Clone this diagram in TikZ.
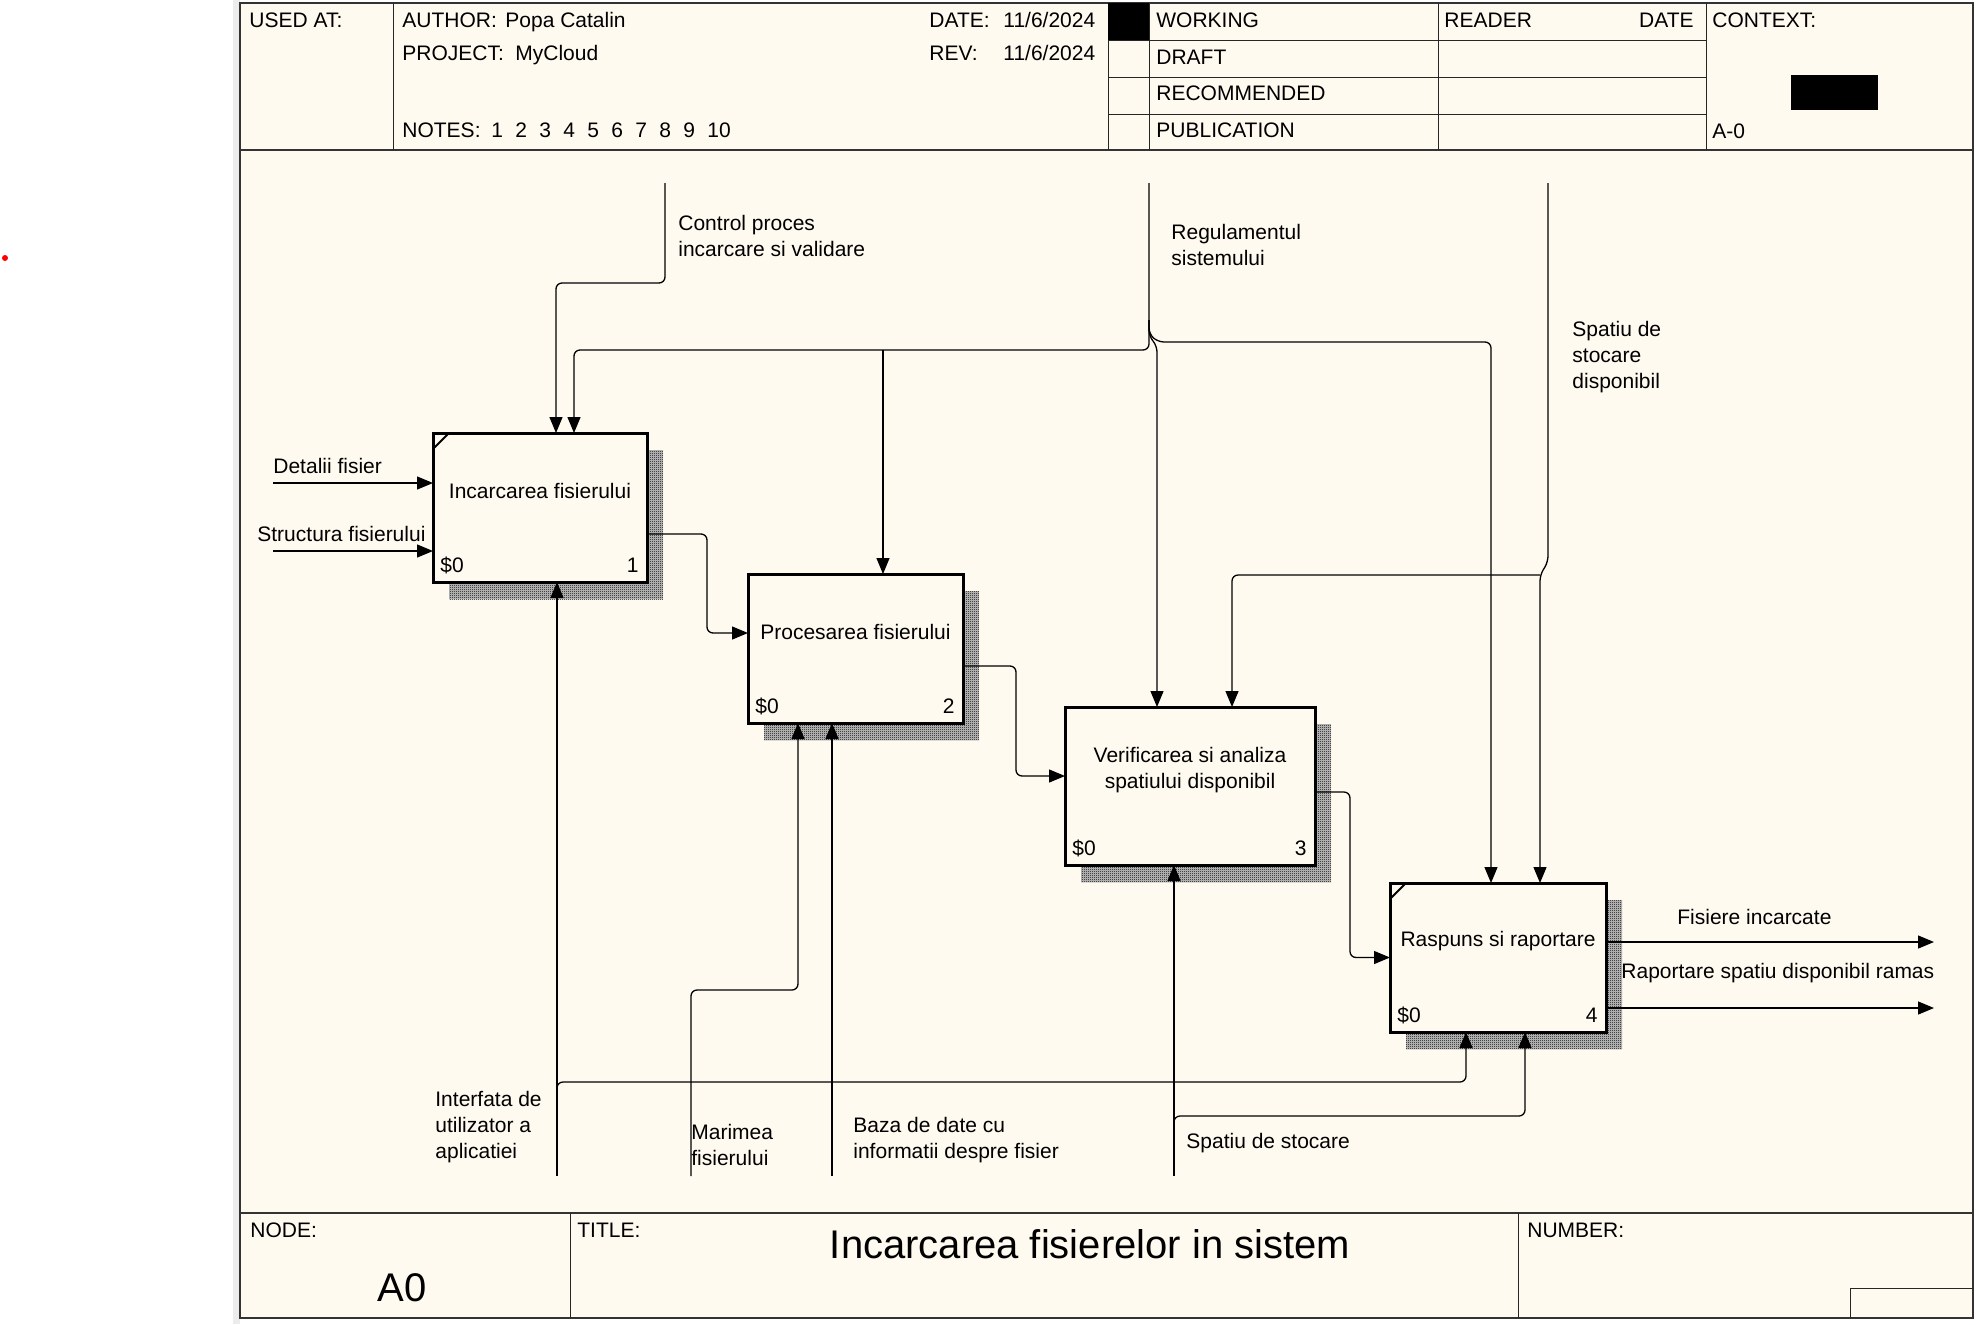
\documentclass[tikz,border=0pt]{standalone}
\usepackage{fontspec}
\setmainfont{Liberation Sans}
\usetikzlibrary{arrows.meta,patterns}
\definecolor{paper}{RGB}{255,250,240}
\pgfdeclarepatternformonly{fine checker}{\pgfqpoint{0pt}{0pt}}{\pgfqpoint{1pt}{1pt}}{\pgfqpoint{1pt}{1pt}}{%
  \pgfpathrectangle{\pgfqpoint{0pt}{0pt}}{\pgfqpoint{0.5pt}{0.5pt}}%
  \pgfpathrectangle{\pgfqpoint{0.5pt}{0.5pt}}{\pgfqpoint{0.5pt}{0.5pt}}%
  \pgfusepath{fill}}
\begin{document}
\begin{tikzpicture}[
  x=0.5pt, y=-0.5pt,
  txt/.style={font=\fontsize{10.5pt}{13pt}\selectfont, inner sep=0pt, anchor=west, align=left},
  hdr/.style={txt, anchor=base west},
  bigtxt/.style={font=\fontsize{20pt}{24pt}\selectfont, inner sep=0pt},
  abox/.style={draw, line width=1.5pt, fill=paper, inner sep=0pt, outer sep=0pt},
  boxshadow/.style={pattern=fine checker, pattern color=black},
  flow/.style={line width=0.65pt, rounded corners=3pt, -{Triangle[length=8pt,width=6.5pt]}},
  thinrule/.style={line width=0.5pt, black!85},
  frame/.style={line width=1pt, black!80}
]
\useasboundingbox (0,0) rectangle (1976,1324);
\fill[white] (0,0) rectangle (1976,1324);
\fill[gray!15] (233,0) rectangle (240,1324);
\fill[red] (5,258) circle (1.5pt);
\draw[frame, fill=paper] (240,3) rectangle (1973,1318);
\draw[frame] (240,150) -- (1973,150);
\draw[frame] (240,1213) -- (1973,1213);
\foreach \x in {393,1108,1149,1438,1706}{
  \draw[thinrule] (\x,3) -- (\x,150);
}
\foreach \y in {40,77,114}{
  \draw[thinrule] (1108,\y) -- (1706,\y);
}
\fill (1108,3) rectangle (1149,40);
\fill (1791,75) rectangle (1878,110);
\foreach \x in {570,1518}{
  \draw[thinrule] (\x,1213) -- (\x,1318);
}
\draw[thinrule] (1850,1318) |- (1973,1288);
\node[hdr] (usedat) at (249,27) {USED AT:};
\node[hdr] (author) at (402,27) {AUTHOR:};
\node[hdr] (authorv) at (505,27) {Popa Catalin};
\node[hdr] (project) at (402,60) {PROJECT:};
\node[hdr] (projectv) at (515,60) {MyCloud};
\node[hdr] (notes) at (402,137) {NOTES:};
\foreach \k in {1,...,10}{
  \node[hdr] (note\k) at ({491+24*(\k-1)},137) {\k};
}
\node[hdr] (date) at (929,27) {DATE:};
\node[hdr] (datev) at (1003,27) {11/6/2024};
\node[hdr] (rev) at (929,60) {REV:};
\node[hdr] (revv) at (1003,60) {11/6/2024};
\foreach \y/\s in {27/WORKING,64/DRAFT,100/RECOMMENDED,137/PUBLICATION}{
  \node[hdr] (st\s) at (1156,\y) {\s};
}
\node[hdr] (reader) at (1444,27) {READER};
\node[hdr, anchor=base east] (rdate) at (1694,27) {DATE};
\node[hdr] (context) at (1712,27) {CONTEXT:};
\node[hdr] (ctxnode) at (1712,138) {A-0};
\node[hdr] (nodelbl) at (250,1237) {NODE:};
\node[hdr] (titlelbl) at (577,1237) {TITLE:};
\node[hdr] (numberlbl) at (1527,1237) {NUMBER:};
\node[bigtxt] (nodeval) at (402,1288) {A0};
\node[bigtxt] (titleval) at (1090,1244) {Incarcarea fisierelor in sistem};
\foreach \i/\cx/\cy/\w/\h/\ty/\lab in {
  1/540/507.5/214/149/491/{Incarcarea fisierului},
  2/855.5/648.5/215/149/632/{Procesarea fisierului},
  3/1190/786/250/158/770/{Verificarea si analiza\\spatiului disponibil},
  4/1498/957.5/216/149/941/{Raspuns si raportare}}{
  \fill[gray!45] ({\cx-\w/2+16},{\cy-\h/2+17}) rectangle ({\cx+\w/2+16},{\cy+\h/2+17});
  \fill[boxshadow] ({\cx-\w/2+16},{\cy-\h/2+17}) rectangle ({\cx+\w/2+16},{\cy+\h/2+17});
  \node[abox, minimum width=\w*0.5pt, minimum height=\h*0.5pt] (b\i) at (\cx,\cy) {};
  \node[txt, anchor=center, align=center] (b\i name) at (\cx,\ty) {\lab};
  \node[txt] (b\i cost) at ([shift={(3.5pt,8.5pt)}]b\i.south west) {\$0};
  \node[txt, anchor=east] (b\i num) at ([shift={(-4pt,8.5pt)}]b\i.south east) {\i};
}
\foreach \i in {1,4}{
  \draw[line width=1pt] ([yshift=-8pt]b\i.north west) -- ([xshift=8pt]b\i.north west);
}
\coordinate (ctl) at (665,183);
\coordinate (reg) at (1149,183);
\coordinate (spd) at (1548,183);
\coordinate (in1) at (273,483);
\coordinate (in2) at (273,551);
\coordinate (out1) at (1934,942);
\coordinate (out2) at (1934,1008);
\coordinate (mec1) at (557,1176);
\coordinate (mec2) at (691,1176);
\coordinate (mec3) at (832,1176);
\coordinate (mec4) at (1174,1176);
\draw[flow] (ctl) -- (665,283) -| ([xshift=8pt]b1.north);
\draw[flow] (reg) |- (574,350) -- ([xshift=17pt]b1.north);
\draw[flow] (883,350) -- ([xshift=13.75pt]b2.north);
\draw[flow] (1149,320) -- (1149,336) -- (1157,346) -- ([xshift=-16.5pt]b3.north);
\draw[flow] (1149,320) -- (1149,334) -- (1158,342) -| ([xshift=-3.5pt]b4.north);
\draw[flow] (spd) -- (1548,562) -- (1540,575) -- ([xshift=21pt]b4.north);
\draw[flow] (1540,575) -| ([xshift=21pt]b3.north);
\draw[flow] (in1) -- ([yshift=12.25pt]b1.west);
\draw[flow] (in2) -- ([yshift=-21.75pt]b1.west);
\draw[flow] ([yshift=-13.25pt]b1.east) -- ++(60,0) |- ([yshift=7.75pt]b2.west);
\draw[flow] ([yshift=-8.75pt]b2.east) -- ++(53,0) |- ([yshift=5pt]b3.west);
\draw[flow] ([yshift=-3pt]b3.east) -- ++(35,0) |- (b4.west);
\draw[flow] ([yshift=7.75pt]b4.east) -- (out1);
\draw[flow] ([yshift=-25.25pt]b4.east) -- (out2);
\draw[flow] (mec1) -- ([xshift=8.5pt]b1.south);
\draw[flow] (557,1096) -- (557,1082) -| ([xshift=-16pt]b4.south);
\draw[flow] (mec2) |- (798,990) -- ([xshift=-28.75pt]b2.south);
\draw[flow] (mec3) -- ([xshift=-11.75pt]b2.south);
\draw[flow] (mec4) -- ([xshift=-8pt]b3.south);
\draw[flow] (1174,1128) -- (1174,1116) -| ([xshift=13.5pt]b4.south);
\node[txt] (lctl) at (678,236) {Control proces\\incarcare si validare};
\node[txt] (lreg) at (1171,245) {Regulamentul\\sistemului};
\node[txt] (lspd) at (1572,357) {Spatiu de\\stocare\\disponibil};
\node[txt] (lin1) at (273,466) {Detalii fisier};
\node[txt] (lin2) at (257,534) {Structura fisierului};
\node[txt] (lout1) at (1677,917) {Fisiere incarcate};
\node[txt] (lout2) at (1621,973) {Raportare spatiu disponibil ramas};
\node[txt] (lmec1) at (435,1127) {Interfata de\\utilizator a\\aplicatiei};
\node[txt] (lmec2) at (691,1145) {Marimea\\fisierului};
\node[txt] (lmec3) at (853,1140) {Baza de date cu\\informatii despre fisier};
\node[txt] (lmec4) at (1186,1143) {Spatiu de stocare};
\end{tikzpicture}
\end{document}
